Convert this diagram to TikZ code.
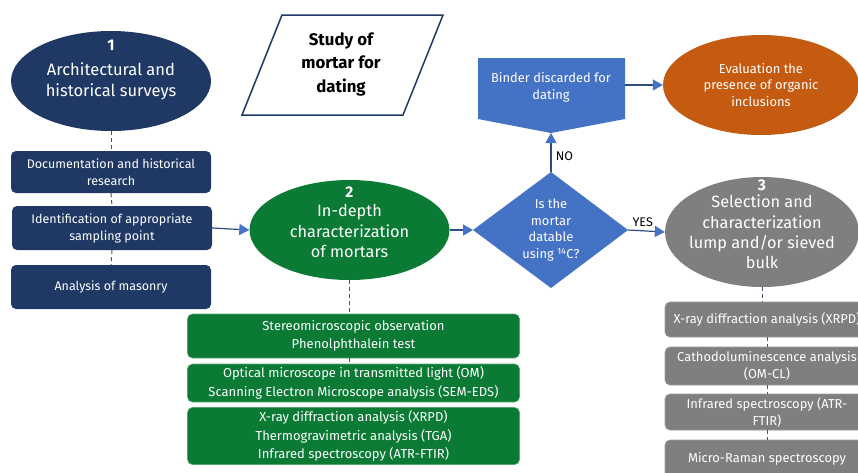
\documentclass[tikz,border=0pt]{standalone}
\usepackage{fontspec}
\setmainfont{Fira Sans}
\usetikzlibrary{arrows.meta,shapes.geometric}
\definecolor{navy}{HTML}{1F3864}
\definecolor{mgreen}{HTML}{0A7A35}
\definecolor{mblue}{HTML}{4472C4}
\definecolor{morange}{HTML}{C55A11}
\definecolor{mgrey}{HTML}{7F7F7F}
\definecolor{lineblue}{HTML}{2F4A80}
\definecolor{dashc}{HTML}{44546A}
\tikzset{
  oval/.style={ellipse,inner sep=0pt,text=white,align=center},
  navybox/.style={rectangle,rounded corners=5pt,fill=navy,text=white,align=center,inner sep=0pt,minimum width=200pt,font=\fontsize{12.5}{17}\selectfont},
  greenbox/.style={rectangle,rounded corners=5pt,fill=mgreen,draw=mgreen!70!white,line width=0.6pt,text=white,align=center,inner sep=0pt,minimum width=332pt,font=\fontsize{13}{18.5}\selectfont},
  greybox/.style={rectangle,rounded corners=5pt,fill=mgrey,draw=mgrey!80!white,line width=0.6pt,text=white,align=center,inner sep=0pt,minimum width=204pt,font=\fontsize{12.9}{17}\selectfont},
  flow/.style={draw=lineblue,line width=1.2pt,-{Triangle[length=10pt,width=11pt,color=mblue]}},
  dashlink/.style={draw=dashc,line width=1pt,dash pattern=on 4pt off 3pt},
}
\begin{document}
\begin{tikzpicture}[x=1pt,y=-1pt]
\useasboundingbox (0,0) rectangle (858,472);
\clip (0,0) rectangle (858,472);

% Title parallelogram
\draw[navy,line width=1.5pt,fill=white] (282,15) -- (443,15) -- (403,115) -- (242,115) -- cycle;
\node[align=center,font=\fontsize{16.8}{23.5}\selectfont\bfseries] (title) at (341,64) {Study of\\mortar for\\dating};

% Column 1
\node[oval,fill=navy,minimum width=200pt,minimum height=100pt] (e1) at (111,81) {};
\node[text=white,font=\fontsize{15.5}{15}\selectfont\bfseries] (n1) at (111,45) {1};
\node[text=white,align=center,font=\fontsize{16.5}{21}\selectfont] (t1) at (111,81) {Architectural and\\historical surveys};

\node[navybox,minimum height=42pt] (a) at (111,172) {Documentation and historical\\research};
\node[navybox,minimum height=44pt] (b) at (112,228) {Identification of appropriate\\sampling point};
\node[navybox,minimum height=44pt] (c) at (111,287) {Analysis of masonry};

\draw[dashlink] (e1.south) -- (a.north);
\draw[dashlink] (a.south) -- (b.north);
\draw[dashlink] (b.south) -- (c.north);

% Column 2
\node[oval,fill=mgreen,minimum width=200pt,minimum height=100pt] (e2) at (349.5,230) {};
\node[text=white,font=\fontsize{15.5}{15}\selectfont\bfseries] (n2) at (349.5,192) {2};
\node[text=white,align=center,font=\fontsize{16.3}{20.5}\selectfont] (t2) at (349.5,231) {In-depth\\characterization\\of mortars};

\node[greenbox,minimum height=44pt] (g1) at (353.5,336) {Stereomicroscopic observation\\Phenolphthalein test};
\node[greenbox,minimum height=38pt] (g2) at (353.5,383) {Optical microscope in transmitted light (OM)\\Scanning Electron Microscope analysis (SEM-EDS)};
\node[greenbox,minimum height=57pt] (g3) at (353.5,436) {X-ray diffraction analysis (XRPD)\\Thermogravimetric analysis (TGA)\\Infrared spectroscopy (ATR-FTIR)};

\draw[dashlink] (e2.south) -- (e2.south |- g1.north);
\draw[dashlink] (e2.south |- g1.south) -- (e2.south |- g2.north);

\draw[flow] (b.east) -- (e2.west);

% Diamond
\coordinate (dw) at (473,230);
\coordinate (de) at (628,230);
\coordinate (dn) at (551,172);
\coordinate (ds) at (551,288);
\fill[mblue] (dw) -- (dn) -- (de) -- (ds) -- cycle;
\node[text=white,align=center,font=\fontsize{12.9}{16.7}\selectfont] (dq) at (551,230) {Is the\\mortar\\datable\\using \textsuperscript{14}C?};

\draw[flow] (e2.east) -- (dw);

% Binder discarded
\coordinate (bw) at (478,85);
\coordinate (be) at (625,85);
\coordinate (bs) at (551,133);
\fill[mblue] (478,58) -- (625,58) -- (625,119) -- (bs) -- (478,119) -- cycle;
\node[text=white,align=center,font=\fontsize{12.9}{17}\selectfont] (bd) at (551,87) {Binder discarded for\\dating};

\draw[flow] (dn) -- (bs) node[pos=0.4,right,font=\fontsize{12.5}{12}\selectfont,text=black,xshift=1pt] (no) {NO};

% Orange ellipse
\node[oval,fill=morange,minimum width=196pt,minimum height=100pt,font=\fontsize{12.9}{16.5}\selectfont] (eo) at (761,85) {Evaluation the\\presence of organic\\inclusions};
\draw[flow] (be) -- (eo.west);

% Grey ellipse
\node[oval,fill=mgrey,minimum width=194pt,minimum height=110pt] (e3) at (762,232) {};
\node[text=white,font=\fontsize{15.5}{15}\selectfont\bfseries] (n3) at (762,185) {3};
\node[text=white,align=center,font=\fontsize{16.3}{20.3}\selectfont] (t3) at (762,232) {Selection and\\characterization\\lump and/or sieved\\bulk};

\draw[flow] (de) -- (e3.west) node[pos=0.4,above,font=\fontsize{12.5}{12}\selectfont,text=black] (yes) {YES};

% Grey boxes
\node[greybox,minimum height=35pt] (x1) at (767,319.5) {X-ray diffraction analysis (XRPD)};
\node[greybox,minimum height=38pt] (x2) at (767,366) {Cathodoluminescence analysis\\(OM-CL)};
\node[greybox,minimum height=36pt] (x3) at (767,412) {Infrared spectroscopy (ATR-\\FTIR)};
\node[greybox,minimum height=38pt] (x4) at (767,459) {Micro-Raman spectroscopy};

\draw[dashlink] (e3.south) -- (e3.south |- x1.north);
\draw[dashlink] (x1.south) -- (x2.north);
\draw[dashlink] (x2.south) -- (x3.north);
\draw[dashlink] (x3.south) -- (x4.north);
\end{tikzpicture}
\end{document}
